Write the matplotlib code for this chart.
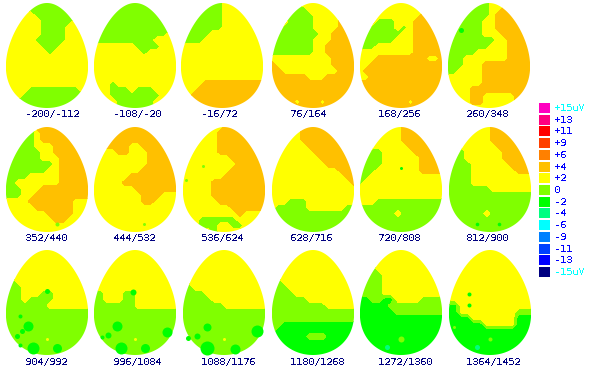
import numpy as np
import matplotlib
matplotlib.use('Agg')
import matplotlib.pyplot as plt
from matplotlib.patches import Polygon

plt.rcParams['font.family'] = ['DejaVu Sans Mono']
plt.rcParams['text.antialiased'] = False
plt.rcParams['text.hinting'] = 'native'
plt.rcParams['text.hinting_factor'] = 1

# window labels, one per map
labels = ['-200/-112', '-108/-20', '-16/72', '76/164', '168/256', '260/348',
          '352/440', '444/532', '536/624', '628/716', '720/808', '812/900',
          '904/992', '996/1084', '1088/1176', '1180/1268', '1272/1360', '1364/1452']

# colour scale
scale_vals = [15, 13, 11, 9, 6, 4, 2, 0, -2, -4, -6, -9, -11, -13, -15]
scale_text = ['+15uV', '+13', '+11', '+9', '+6', '+4', '+2', '0', '-2', '-4', '-6', '-9', '-11', '-13', '-15uV']
scale_cols = ['#ff00c0', '#ff0080', '#ff0000', '#ff4000', '#ff8000', '#ffc000', '#ffff00', '#80ff00',
              '#00ff00', '#00ff80', '#00ffff', '#0080ff', '#0040ff', '#0000ff', '#000080']

# potential: G=-2uV g=0 y=+2 o=+4, 14 columns x 18 rows
m01 = ['yyyyggggggyyyy', 'yyyyggggggyyyy', 'yyyyyggggggyyy', 'yyyyyygggggyyy', 'yyyyyyggggyyyy', 'yyyyyyggggyyyy',
       'yyyyygggggyyyy', 'yyyyyygggyyyyy', 'yyyyyyygyyyyyy', 'yyyyyyyyyyyyyy', 'yyyyyyyyyyyyyy', 'yyyyyyyyyyyyyy',
       'yyyyyyyyyyyyyy', 'yyyyyyyyyyyyyy', 'yyyyggggggggyy', 'yyyggggggggggy', 'gggggggggggggg', 'gggggggggggggg']
m02 = ['gggggggggggggg', 'gggggggggggggg', 'gggggggggggggg', 'gggggggggggggg', 'gggggggggggggg', 'ggggggggggggyy',
       'ggggggggggyyyy', 'yyyyyyyggggyyy', 'yyyyyyyygyyyyy', 'yyyyyyyyyyyyyy', 'yyyyyyyyyyyyyy', 'yyyyyyyyyyyyyy',
       'yyyyyyyyyyyyyy', 'yyygyyyyyyyyyy', 'yyygggygggyyyy', 'yyyggggggggyyy', 'yyyyggggggyyyy', 'yyyyggggggyyyy']
m03 = ['gggggggyyyyyyy', 'gggggggyyyyyyy', 'gggggggyyyyyyy', 'gggggggyyyyyyy', 'gggggggyyyyyyy', 'gggggyyyyyyyyy',
       'ggggyyyyyyyyyy', 'yyyyyyyyyyyyyy', 'yyyyyyyyyyyyyy', 'yyyyyyyyyyyyyy', 'yyyyyyyyyyyyyy', 'yyyyyyyyyyyyyy',
       'yyyyyyyyyyyyyy', 'yyyyoooooooooo', 'yyyooooooooooo', 'yyoooooooooooo', 'oooooooooooooo', 'oooooooooooooo']
m04 = ['yyyyyyyyyyyyyy', 'yyyyggyyyyyyyy', 'yyyggggyyyyyyy', 'yyyggggyyyyooo', 'yygggggyyyyooo', 'ygggggggyyoooo',
       'yggggggyyyoooo', 'gggggggyyooooo', 'gggggggyyooooo', 'yyyyyyyyyyoooo', 'oyyyyyyyyyoooo', 'ooyyyyyyyyyooo',
       'ooooooyyyooooo', 'oooooooooooooo', 'oooooooooooooo', 'oooooooooooooo', 'ooooyoooyooooo', 'oooooooooooooo']
m05 = ['yyyyyyyyyyyyyy', 'yyyyyyyyyyyyyy', 'yyyyyyyyyyoooo', 'yyygggyyyooooo', 'yyggggygyooooo', 'yggggggyyooooo',
       'ygggggyyyooooo', 'gggyyyyyyooooo', 'yyyyyyyyyooooo', 'yyyooooooooyyo', 'yyoooooooooooo', 'yooooooooooooo',
       'yyoooooooooooo', 'oooooooooooooo', 'oooooooooooooo', 'oooooooooooooo', 'ooooooooyooooo', 'oooooooooooooo']
m06 = ['gggggggyyyyyyy', 'gggggggyyooooo', 'gggggggyoooooo', 'ggggggyyoooooo', 'ggggggyyoooooo', 'ggggggyyyooooo',
       'ggggggggyyoooo', 'gggggggyyyoooo', 'gggggyyyyyoooo', 'gggyyyyyyyoooo', 'gggyyyoooooooo', 'ggyyyyoooooooo',
       'yyyyyyoooooooo', 'yyyyyyoooooooo', 'yyyyoooooooooo', 'yyyyooyyyyyooo', 'yyyyooyyyyyooo', 'yyyyyyyyyyyyyy']
m07 = ['gggggooooooooo', 'gggggyoooooooo', 'gggggyoooooooo', 'gggggyyyoooooo', 'ggggggyyoooooo', 'ggggggyyyooooo',
       'ggggggggyooooo', 'gggggggyyooooo', 'ggggyyyyyooooo', 'ggyyyyyyyooooo', 'gggyyyoooooooo', 'gggyyooooooooo',
       'yyyyoooooooyyy', 'yyyyyooooooyyy', 'yyyyyyyooooyyy', 'yyyyyyyyooyyyy', 'yyyyyyyyyyyyyy', 'yyyyyyyyyyyyyy']
m08 = ['oooooooooooooo', 'oooooooooooooo', 'oooooooooooooo', 'ooooooyyoooooo', 'yyyyooyyyooooo', 'yyyyyyyyyooooo',
       'yyyyyyyyyooooo', 'yyyyyyyyoooooo', 'yyyyyyoooooooo', 'yyyyyooooooooo', 'yyyyyyyooooooo', 'yyyyyyyyoooyyy',
       'yyyyyyyyooyyyy', 'yyyyyyyyyyyyyy', 'yyyyyyyyyyyyyy', 'yyyyyyyyyyyyyy', 'yyyyyyyyyyyyyy', 'yyyyyyyyyyyyyy']
m09 = ['yyyyyyyooooooo', 'yyyyyyoooooooo', 'yyyyyyoooooooo', 'yyyyyyoooooooo', 'yyyyyyoooooooo', 'yyyyyyyyoooooo',
       'yyyyyyyyyooooo', 'yyyyyyyyoooooo', 'yyyyyyyooooooo', 'yyyyyooooooooo', 'yyyyyooooooooo', 'yyyyyooooooooo',
       'yyyyyyoooooooo', 'yyyyyyyyoooooo', 'yyyyyyyyyoyyyy', 'yyyggggggyyyyy', 'yyygggyyggyyyy', 'yyyyygyyyyyyyy']
m10 = ['yyyyyooooooooo', 'yyyyyooooooooo', 'yyyyyooooooooo', 'yyyyyyoooooooo', 'yyyyyyyooooooo', 'yyyyyyyyoooooo',
       'yyyyyyyyyooooo', 'yyyyyyyyyyyooo', 'yyyyyyyyyyyyoo', 'yyyyyyyyyyyyyo', 'yyyyyyyyyyyyyy', 'yyyyyyyyyyyyyy',
       'yyygggyyyyyyyy', 'ygggggyyyyyygg', 'gggggggggggggg', 'gggggggggggggg', 'gggggggggggggg', 'gggggggggggggg']
m11 = ['yyyyyyyooooooo', 'yyyyyyyooooooo', 'yyyyyyyooooooo', 'yyyyyyyyoooooo', 'yyggyyyyyooooo', 'ygggyyyyyyoooo',
       'ygggyyyyyyoooo', 'gggyyyyyyyoooo', 'ggyyyyyyyyyyyy', 'gyyyyyyyyyyyyy', 'yyyyyyyyyyyyyy', 'yyyyyyyyyyyyyy',
       'yyyggggggggggg', 'gggggggggggggg', 'ggggggyggggggg', 'gggggggggggggg', 'gggggggggggggg', 'gggggggggggggg']
m12 = ['yyyyyyyooooooo', 'yyyyyyyooooooo', 'yyyyyyyooooooo', 'yyyyyyyyoooooo', 'yygyyyyyyooooo', 'yggyyyyyyooooo',
       'ggggyyyyyyoooo', 'ggggyyyyyyyooo', 'ggggyyyyyyyyyy', 'ggggyyyyyyyyyy', 'gggggggyyyyyyy', 'gggggggggggggg',
       'gggggggggggggg', 'gggggggggggggg', 'ggggggyggggggg', 'gggggggggggggg', 'gggggggggggggg', 'gggggggggggggg']
m13 = ['yyyyyyyyyyyyyy', 'yyyyyyyyyyyyyy', 'yyyyyyyyyyyyyy', 'yyyyyyyyyyyyyy', 'yyyyyyyyyyyyyy', 'ggyyyyyyyyyyyy',
       'gggyyyyyyyyyyy', 'gggyyyggyyyyyy', 'gggyggggyyyyyy', 'gggggggyyyyyyy', 'gggggggggggggg', 'gggggggggggggg',
       'gggggggggggggg', 'gggggggggggggg', 'gggggggggggggg', 'gggggggggggggg', 'gggggggggggggg', 'gggggggggggggg']
m14 = ['yyyyyyyyyyyyyy', 'yyyyyyyyyyyyyy', 'yyyyyyyyyyyyyy', 'yyyyyyyyyyyyyy', 'yyyyyyyyyyyyyy', 'yyyyyyyyyyyyyy',
       'yyyyyyyyyyyyyy', 'ggyyyggyyyyyyy', 'ggyyyggyyyyyyy', 'gggggggyyyyyyy', 'gggggggggggggg', 'gggggggggggggg',
       'gggggggggggggg', 'gggggggggggggg', 'gggggggggggggg', 'gggggggggggggg', 'gggggggggggggg', 'gggggggggggggg']
m15 = ['yyyyyyyyyyyyyy', 'yyyyyyyyyyyyyy', 'yyyyyyyyyyyyyy', 'yyyyyyyyyyyyyy', 'yyyyyyyyyyyyyy', 'yyyyyyyyyyyyyy',
       'ggyyyyyyyyyyyy', 'ggggyyyyyyyyyy', 'gggggyyyyyyyyy', 'gggggggyyyyyyy', 'gggggggggggggg', 'gggggggggggggg',
       'gggggggggggggg', 'gggggggggggggg', 'gggggggggggggg', 'gggggggggggggg', 'gggggggggggggg', 'gggggggggggggg']
m16 = ['yyyyyyyyyyyyyy', 'yyyyyyyyyyyyyy', 'yyyyyyyyyyyyyy', 'yyyyyyyyyyyyyy', 'yyyyyyyyyyyyyy', 'ggyyyyyyyyyyyy',
       'gggyyyyyyyyyyy', 'ggggyyyyyyyyyy', 'ggggggyyyyyyyy', 'gggggggggyyyyy', 'gggggggggggggg', 'gggggggggggggg',
       'ggGGGGGGGGGGGG', 'gGGGGGGGGGGGGG', 'GGGGGGgggGGGGG', 'GGGGGGGGGGGGGG', 'GGGGGGGGGGGGGG', 'GGGGGGGGGGGGGG']
m17 = ['yyyyyyyyyyyyyy', 'yyyyyyyyyyyyyy', 'yyyyyyyyyyyyyy', 'gggyyyyyyyyyyy', 'ggggyyyyyyyyyy', 'ggggyyyyyyyyyy',
       'ggggyyyyyyyyyy', 'ggggyyyyyyyyyy', 'GGggGGyyyygggg', 'GGGGGggggggggg', 'GGGGGGgggggggg', 'GGGGGGGGGGGGGG',
       'GGGGGGGGGGGGGG', 'GGGGGGGGGGGGGG', 'GGGGGGGGGGGGGG', 'GGGGGGGGGGGGGG', 'GGGGGGGGGGGGGG', 'GGGGGGGGGGGGGG']
m18 = ['yyyyyyyyyyyyyy', 'yyyyyyyyyyyyyy', 'yyyyyyyyyyyyyy', 'yyyyyyyyyyyyyy', 'yyyyyyyyyyyyyy', 'yyyyyyyyyyyyyy',
       'yyyyyyyyyyyyyy', 'yyyyyyyyyyyyyy', 'yyyyyyyyyyyyyy', 'GGyyyyyyyyyyyy', 'GGyyyyyyyyyggg', 'GGGGyyyyyyyGGG',
       'GGGGGGyyyyyGGG', 'GGGGGGGGGGGGGG', 'GGGGGGGGGGGGGG', 'GGGGGGGGGGGGGG', 'GGGGGGGGGGGGGG', 'GGGGGGGGGGGGGG']
maps = [m01, m02, m03, m04, m05, m06, m07, m08, m09, m10, m11, m12, m13, m14, m15, m16, m17, m18]

# small isolated patches: map number, x and y inside the map, radius, potential
spot_map = [6, 7, 8, 9, 9, 11, 12, 12,
            13, 13, 13, 13, 13, 13, 13, 13, 13,
            14, 14, 14, 14, 14, 14, 14, 14,
            15, 15, 15, 15, 15, 15, 15,
            17, 17, 18, 18, 18, 18, 18]
spot_x = [13, 51, 50, 3, 20, 41, 28, 50,
          27, 51, 22, 14, 11, 16, 41, 14, 41,
          27, 51, 23, 14, 8, 73, 39, 41,
          24, 52, 24, 14, 5, 74, 41,
          41, 27, 28, 41, 5, 20, 20]
spot_y = [27, 97, 97, 53, 39, 41, 97, 97,
          98, 98, 76, 66, 86, 81, 41, 95, 89,
          98, 98, 76, 85, 87, 82, 42, 89,
          98, 99, 77, 86, 88, 81, 89,
          89, 97, 97, 89, 77, 44, 55]
spot_r = [2.5, 2, 1.5, 1.5, 1.5, 1.5, 1.8, 1.8,
          6, 4.5, 5, 2, 2.5, 2.5, 2.5, 2, 1.5,
          6, 4.5, 5, 3, 2, 5, 3, 1.5,
          7, 5, 4, 3, 2.5, 6, 1.5,
          3, 2.5, 2.5, 2, 1.5, 2, 2]
spot_v = [-2, 0, 0, 0, 0, -2, -2, -2,
          -2, -2, -2, -2, -2, -2, -2, -2, 2,
          -2, -2, -2, -2, -2, -2, -2, 2,
          -2, -2, -2, -2, -2, -2, 2,
          0, -4, -4, 0, 0, -2, -2]

code = {'G': -2, 'g': 0, 'y': 2, 'o': 4}

lefts = [6, 94, 181, 272, 360, 448, 6, 94, 183, 272, 360, 449, 6, 94, 183, 272, 360, 449]
tops = [3, 127, 250]
W = 82
H = 105

fig = plt.figure(figsize=(5.91, 3.73), dpi=100)
ax = fig.add_axes([0, 0, 1, 1])
ax.set_xlim(0, 591)
ax.set_ylim(373, 0)
ax.axis('off')

th = np.linspace(0, 2 * np.pi, 200)
s = -np.cos(th)
egg_x = 0.98 * np.sin(th) * (1 + 0.225 * s)
egg_y = (s + 1) / 2

for i, m in enumerate(maps):
    x0 = lefts[i]
    y0 = tops[i // 6]
    z = np.array([[code[c] for c in row] for row in m], dtype=float)
    xs = x0 + np.linspace(0, W, z.shape[1])
    ys = y0 + np.linspace(0, H, z.shape[0])
    cs = ax.contourf(xs, ys, z, levels=[-3, -1, 1, 3, 5],
                     colors=['#00ff00', '#80ff00', '#ffff00', '#ffc000'], antialiased=False)
    egg = Polygon(np.c_[x0 + W / 2 + W / 2 * egg_x, y0 + H * egg_y], closed=True,
                  facecolor='none', edgecolor='none', transform=ax.transData)
    ax.add_patch(egg)
    cs.set_clip_path(egg)
    ax.text(25 + 88.2 * (i % 6), y0 + H + 6.5, labels[i], fontsize=7.05, color='#000080', ha='left', va='center')

for k in range(len(spot_map)):
    i = spot_map[k] - 1
    c = scale_cols[scale_vals.index(spot_v[k])]
    ax.scatter(lefts[i] + spot_x[k], tops[i // 6] + spot_y[k], s=(2 * spot_r[k] * 0.72) ** 2, marker='o',
               color=c, linewidths=0, antialiaseds=False, zorder=3)

for j, v in enumerate(scale_vals):
    yy = 103 + 11.72 * j
    ax.fill([539, 550, 550, 539], [yy, yy, yy + 10, yy + 10], color=scale_cols[j], lw=0, antialiased=False)
    col = '#00ffff' if 'uV' in scale_text[j] else '#0000ff'
    ax.text(554, yy + 5, scale_text[j], fontsize=7.05, color=col, ha='left', va='center')

fig.savefig('out.png', dpi=100)
